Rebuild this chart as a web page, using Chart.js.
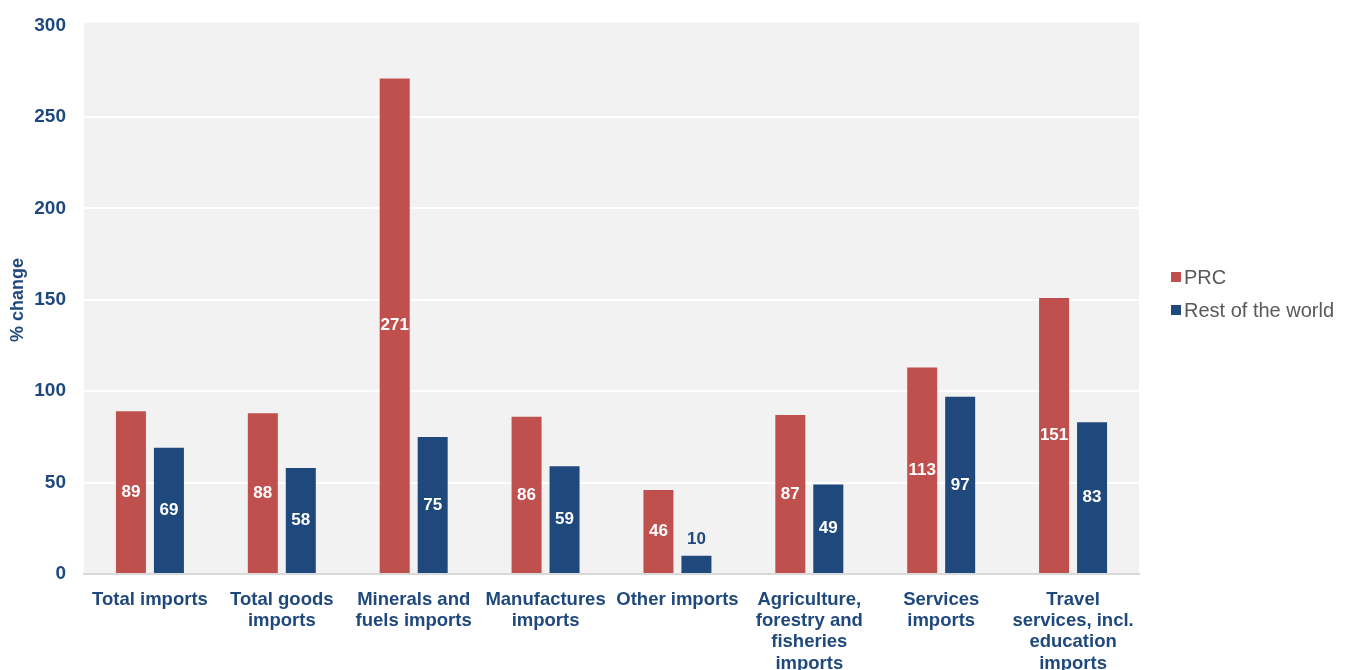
<!DOCTYPE html>
<html>
<head>
<meta charset="utf-8">
<script src="https://cdn.jsdelivr.net/npm/chart.js@4/dist/chart.umd.min.js"></script>
<style>
html,body{margin:0;padding:0;background:#fff;}
#wrap{width:1351px;height:670px;position:relative;}
</style>
</head>
<body>
<div id="wrap"><canvas id="c" width="1351" height="670"></canvas></div>
<script>
const categories = [
  ["Total imports"],
  ["Total goods", "imports"],
  ["Minerals and", "fuels imports"],
  ["Manufactures", "imports"],
  ["Other imports"],
  ["Agriculture,", "forestry and", "fisheries", "imports"],
  ["Services", "imports"],
  ["Travel", "services, incl.", "education", "imports"]
];
const prcValues = [89, 88, 271, 86, 46, 87, 113, 151];
const rowValues = [69, 58, 75, 59, 10, 49, 97, 83];
const seriesNames = ["PRC", "Rest of the world"];
const yTicks = [0, 50, 100, 150, 200, 250, 300];
const yTitle = "% change";

const RED = "#c0504d", BLUE = "#1f497d", TXT = "#1f497d";

const bgPlugin = {
  id: "bg",
  beforeDraw(chart) {
    const {ctx, chartArea: a} = chart;
    ctx.save();
    ctx.fillStyle = "#f2f2f2";
    ctx.fillRect(a.left, a.top - 3, a.right - a.left, a.bottom - a.top + 3);
    ctx.restore();
  }
};

const labelPlugin = {
  id: "vlabels",
  afterDatasetsDraw(chart) {
    const ctx = chart.ctx;
    ctx.save();
    ctx.font = "bold 17px 'Liberation Sans', Arial, sans-serif";
    ctx.textAlign = "center";
    ctx.textBaseline = "middle";
    chart.data.datasets.forEach((ds, di) => {
      const meta = chart.getDatasetMeta(di);
      meta.data.forEach((bar, i) => {
        const v = ds.data[i];
        const h = bar.base - bar.y;
        if (h < 30) {
          ctx.fillStyle = TXT;
          ctx.fillText(String(v), bar.x, bar.y - 16);
        } else {
          ctx.fillStyle = "#ffffff";
          ctx.fillText(String(v), bar.x, (bar.y + bar.base) / 2);
        }
      });
    });
    ctx.restore();
  }
};

const legendPlugin = {
  id: "customLegend",
  afterDraw(chart) {
    const ctx = chart.ctx;
    ctx.save();
    ctx.font = "20px 'Liberation Sans', Arial, sans-serif";
    ctx.textBaseline = "middle";
    const ys = [277, 310];
    chart.data.datasets.forEach((ds, i) => {
      ctx.fillStyle = ds.backgroundColor;
      ctx.fillRect(1171, ys[i] - 5, 10, 10);
      ctx.fillStyle = "#595959";
      ctx.fillText(ds.label, 1184, ys[i] + 1);
    });
    // y axis title
    ctx.translate(18, 300);
    ctx.rotate(-Math.PI / 2);
    ctx.textAlign = "center";
    ctx.fillStyle = TXT;
    ctx.font = "bold 18px 'Liberation Sans', Arial, sans-serif";
    ctx.fillText(yTitle, 0, 0);
    ctx.restore();
  }
};

new Chart(document.getElementById("c"), {
  type: "bar",
  data: {
    labels: categories,
    datasets: [
      {label: seriesNames[0], data: prcValues, backgroundColor: RED,
       categoryPercentage: 0.576, barPercentage: 0.79},
      {label: seriesNames[1], data: rowValues, backgroundColor: BLUE,
       categoryPercentage: 0.576, barPercentage: 0.79}
    ]
  },
  options: {
    responsive: false,
    animation: false,
    devicePixelRatio: 1,
    layout: {padding: {top: 20, right: 212, left: 0, bottom: 0}},
    plugins: {legend: {display: false}, tooltip: {enabled: false}},
    scales: {
      x: {
        grid: {display: false, drawTicks: false},
        border: {display: true, color: "#d9d9d9", width: 2},
        ticks: {
          color: TXT, padding: 15, maxRotation: 0, autoSkip: false,
          font: {family: "'Liberation Sans', Arial, sans-serif", size: 18.5, weight: "bold", lineHeight: 1.15}
        },
        afterFit(s) { s.height = 96; }
      },
      y: {
        min: 0, max: 300,
        afterBuildTicks(s) { s.ticks = yTicks.map(v => ({value: v})); },
        grid: {
          drawTicks: false,
          color: c => (c.tick && (c.tick.value === 0 || c.tick.value === 300)) ? "rgba(0,0,0,0)" : "#ffffff",
          lineWidth: 2
        },
        border: {display: false},
        ticks: {
          color: TXT, padding: 18,
          font: {family: "'Liberation Sans', Arial, sans-serif", size: 19, weight: "bold", lineHeight: 0.8}
        },
        afterFit(s) { s.width = 84; }
      }
    }
  },
  plugins: [bgPlugin, labelPlugin, legendPlugin]
});
</script>
</body>
</html>
